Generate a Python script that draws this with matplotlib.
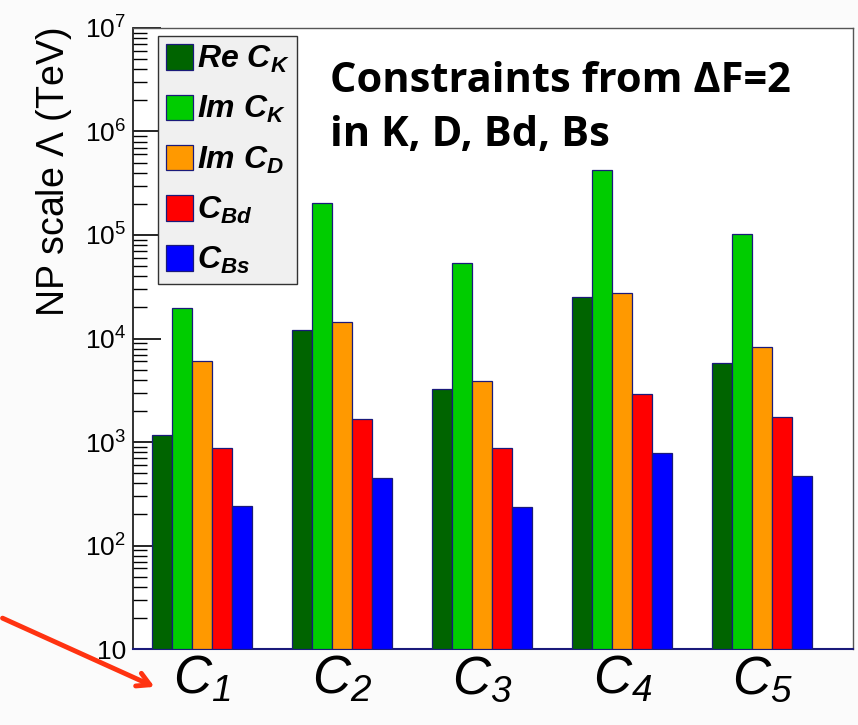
import numpy as np
import matplotlib
matplotlib.use('Agg')
import matplotlib.pyplot as plt
from matplotlib.ticker import FixedLocator, FixedFormatter, NullFormatter

plt.rcParams['font.family'] = ['Liberation Sans', 'DejaVu Sans']
plt.rcParams['mathtext.fontset'] = 'custom'
plt.rcParams['mathtext.rm'] = 'Liberation Sans'
plt.rcParams['mathtext.it'] = 'Liberation Sans:italic'
plt.rcParams['mathtext.sf'] = 'Liberation Sans:italic'
plt.rcParams['mathtext.bf'] = 'Liberation Sans:bold:italic'

# data
operators = [r'$\mathsf{C_{1}}$', r'$\mathsf{C_{2}}$', r'$\mathsf{C_{3}}$',
             r'$\mathsf{C_{4}}$', r'$\mathsf{C_{5}}$']
re_ck = [1170, 12100, 3250, 25200, 5800]
im_ck = [19700, 204000, 53600, 425000, 102000]
im_cd = [6060, 14400, 3880, 27500, 8300]
c_bd = [856, 1670, 856, 2910, 1745]
c_bs = [230, 439, 225, 766, 459]

series = [re_ck, im_ck, im_cd, c_bd, c_bs]
names = [r'$\mathbf{Re\ C_{K}}$', r'$\mathbf{Im\ C_{K}}$', r'$\mathbf{Im\ C_{D}}$',
         r'$\mathbf{C_{Bd}}$', r'$\mathbf{C_{Bs}}$']
colors = ['#006400', '#00cc00', '#ff9900', '#ff0000', '#0000ff']

fig = plt.figure(figsize=(8.58, 7.25), dpi=100, facecolor='#fbfbfb')
ax = fig.add_axes([0.155, 0.1048, 0.839, 0.8566])
ax.set_facecolor('white')

w = 1 / 7.0
x = np.arange(len(operators))
handles = []
for j, vals in enumerate(series):
    b = ax.bar(x + (j - 2) * w, vals, width=w, bottom=10, color=colors[j],
               edgecolor='#1a1a7a', linewidth=0.9, label=names[j], zorder=3)
    handles.append(b)

ax.set_yscale('log')
ax.set_ylim(10, 1e7)
ax.set_xlim(-0.496, 4.646)

ax.yaxis.set_major_locator(FixedLocator([10, 1e2, 1e3, 1e4, 1e5, 1e6, 1e7]))
ax.yaxis.set_major_formatter(FixedFormatter(['10', r'$10^{2}$', r'$10^{3}$', r'$10^{4}$',
                                             r'$10^{5}$', r'$10^{6}$', r'$10^{7}$']))
ax.yaxis.set_minor_formatter(NullFormatter())
ax.tick_params(axis='y', which='major', direction='in', length=20, width=1.2,
               labelsize=19, pad=5, colors='black')
ax.tick_params(axis='y', which='minor', direction='in', length=10, width=1.0)

ax.set_xticks(x)
ax.set_xticklabels(operators, fontsize=38)
ax.tick_params(axis='x', length=0, pad=4)

ax.set_ylabel(r'NP scale $\Lambda$ (TeV)', fontsize=27, labelpad=8, loc='top')

ax.spines['bottom'].set_color('#1a1a7a')
ax.spines['bottom'].set_linewidth(1.5)
ax.spines['left'].set_color('#222222')
ax.spines['left'].set_linewidth(1.3)
for s in ['top', 'right']:
    ax.spines[s].set_color('#555555')
    ax.spines[s].set_linewidth(1.0)

leg = ax.legend(handles=handles, loc='upper left', bbox_to_anchor=(0.035, 0.987),
                fontsize=23, frameon=True, fancybox=False, handlelength=0.85,
                handleheight=0.85, handletextpad=0.1, labelspacing=0.6,
                borderpad=0.25, borderaxespad=0)
leg.get_frame().set_facecolor('#f0f0f0')
leg.get_frame().set_edgecolor('#333333')
leg.get_frame().set_linewidth(1.0)
leg.get_frame().set_alpha(1)

fig.text(330 / 858, 1 - 92 / 725, u'Constraints from \u0394F=2', fontsize=30,
         fontweight='bold', family=['Open Sans', 'DejaVu Sans'], va='baseline')
fig.text(330 / 858, 1 - 146 / 725, 'in K, D, Bd, Bs', fontsize=30,
         fontweight='bold', family=['Open Sans', 'DejaVu Sans'], va='baseline')

ax.annotate('', xy=(157, 725 - 688), xycoords='figure pixels',
            xytext=(0, 725 - 617), textcoords='figure pixels',
            arrowprops=dict(arrowstyle='->,head_length=0.9,head_width=0.5',
                            color='#ff3311', lw=3.5), annotation_clip=False)

fig.savefig('out.png', dpi=100, facecolor=fig.get_facecolor())
